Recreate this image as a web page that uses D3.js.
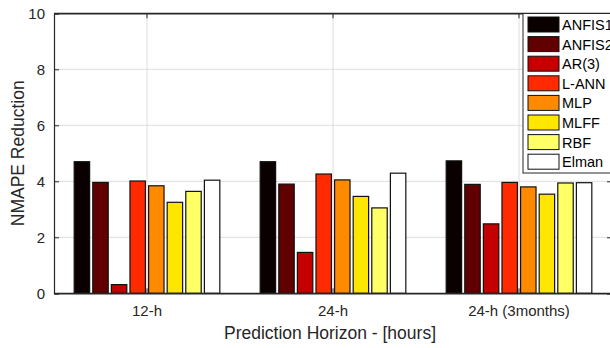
<!DOCTYPE html>
<html>
<head>
<meta charset="utf-8">
<script src="https://cdn.jsdelivr.net/npm/d3@7"></script>
<style>
  body { margin: 0; background: #fff; }
  svg { display: block; font-family: "Liberation Sans", Arial, sans-serif; }
</style>
</head>
<body>
<div id="chart"></div>
<script>
// horizons on the x axis
var horizons = ['12-h', '24-h', '24-h (3months)'];
// models, in legend order
var models = ['ANFIS1', 'ANFIS2', 'AR(3)', 'L-ANN', 'MLP', 'MLFF', 'RBF', 'Elman'];
var modelColors = ['#0a0000', '#600000', '#c40000', '#ff2a00', '#ff8a00', '#ffe600', '#ffff66', '#ffffff'];
// NMAPE reduction per model, one value per horizon
var anfis1 = [4.70, 4.70, 4.73];
var anfis2 = [3.96, 3.90, 3.89];
var ar3    = [0.31, 1.46, 2.48];
var lann   = [4.01, 4.26, 3.96];
var mlp    = [3.84, 4.05, 3.80];
var mlff   = [3.25, 3.46, 3.54];
var rbf    = [3.64, 3.05, 3.94];
var elman  = [4.04, 4.29, 3.95];
var yTicks = [0, 2, 4, 6, 8, 10];

var series = [anfis1, anfis2, ar3, lann, mlp, mlff, rbf, elman];

(function() {
  var width = 610, height = 348;
  var left = 54, right = 612, plotTop = 13.3, plotBottom = 293.3;

  var svg = d3.select('#chart').append('svg')
    .attr('width', width)
    .attr('height', height);

  var x0 = d3.scaleBand().domain(horizons).range([left, right]);
  var groupPad = x0.bandwidth() * 0.1;
  var x1 = d3.scaleBand().domain(models)
    .range([groupPad, x0.bandwidth() - groupPad])
    .paddingInner(0.17).paddingOuter(0.085);
  var y = d3.scaleLinear().domain([0, 10]).range([plotBottom, plotTop]);

  // grid
  var grid = svg.append('g');
  grid.selectAll('.hg').data(yTicks.slice(1, -1)).enter().append('line')
    .attr('x1', left).attr('x2', right)
    .attr('y1', d => y(d)).attr('y2', d => y(d))
    .attr('stroke', '#dedede').attr('stroke-width', 1);
  grid.selectAll('.vg').data(horizons).enter().append('line')
    .attr('x1', d => x0(d) + x0.bandwidth() / 2).attr('x2', d => x0(d) + x0.bandwidth() / 2)
    .attr('y1', plotTop).attr('y2', plotBottom)
    .attr('stroke', '#dedede').attr('stroke-width', 1);

  // bars
  var rows = [];
  horizons.forEach(function(h, i) {
    models.forEach(function(m, j) {
      rows.push({ h: h, m: m, v: series[j][i], c: modelColors[j] });
    });
  });
  svg.append('g').selectAll('rect').data(rows).enter().append('rect')
    .attr('x', d => x0(d.h) + x1(d.m))
    .attr('y', d => y(d.v))
    .attr('width', x1.bandwidth())
    .attr('height', d => y(0) - y(d.v))
    .attr('fill', d => d.c)
    .attr('stroke', '#111')
    .attr('stroke-width', 1.2);

  // axes
  var axisColor = '#262626';
  var yAxis = svg.append('g')
    .attr('transform', 'translate(' + left + ',0)')
    .call(d3.axisLeft(y).tickValues(yTicks).tickSize(-5).tickPadding(9));
  var yAxisR = svg.append('g')
    .attr('transform', 'translate(' + right + ',0)')
    .call(d3.axisRight(y).tickValues(yTicks).tickSize(-5).tickFormat(''));
  var xAxis = svg.append('g')
    .attr('transform', 'translate(0,' + plotBottom + ')')
    .call(d3.axisBottom(x0).tickSize(-5).tickSizeOuter(0).tickPadding(12));
  var xAxisT = svg.append('g')
    .attr('transform', 'translate(0,' + plotTop + ')')
    .call(d3.axisTop(x0).tickSize(-5).tickSizeOuter(0).tickFormat(''));

  [yAxis, yAxisR, xAxis, xAxisT].forEach(function(a) {
    a.selectAll('.domain').attr('stroke', axisColor).attr('stroke-width', 1.2);
    a.selectAll('.tick line').attr('stroke', axisColor);
    a.selectAll('text').attr('fill', axisColor).style('font-size', '15px')
      .style('font-family', '"Liberation Sans", Arial, sans-serif');
  });
  // the axis lines across the full box
  svg.append('line').attr('x1', left).attr('x2', right).attr('y1', plotBottom).attr('y2', plotBottom)
    .attr('stroke', axisColor).attr('stroke-width', 1.2);
  svg.append('line').attr('x1', left).attr('x2', right).attr('y1', plotTop).attr('y2', plotTop)
    .attr('stroke', axisColor).attr('stroke-width', 1.2);

  // axis titles
  svg.append('text')
    .attr('x', 330).attr('y', 339)
    .attr('text-anchor', 'middle')
    .attr('fill', axisColor)
    .style('font-size', '17.5px')
    .text('Prediction Horizon - [hours]');
  svg.append('text')
    .attr('transform', 'translate(24,' + (plotTop + plotBottom) / 2 + ') rotate(-90)')
    .attr('text-anchor', 'middle')
    .attr('fill', axisColor)
    .style('font-size', '17.5px')
    .text('NMAPE Reduction');

  // legend
  var legend = svg.append('g').attr('transform', 'translate(523,13.5)');
  legend.append('rect')
    .attr('x', 0).attr('y', 0).attr('width', 100).attr('height', 159.5)
    .attr('fill', '#fff').attr('stroke', axisColor).attr('stroke-width', 1);
  var item = legend.selectAll('.item').data(models).enter().append('g')
    .attr('transform', (d, i) => 'translate(5,' + (3.5 + i * 19.6) + ')');
  item.append('rect')
    .attr('width', 31).attr('height', 15)
    .attr('fill', (d, i) => modelColors[i])
    .attr('stroke', '#111').attr('stroke-width', 1);
  item.append('text')
    .attr('x', 34).attr('y', 13)
    .attr('fill', '#000')
    .style('font-size', '14.5px')
    .text(d => d);
})();
</script>
</body>
</html>
